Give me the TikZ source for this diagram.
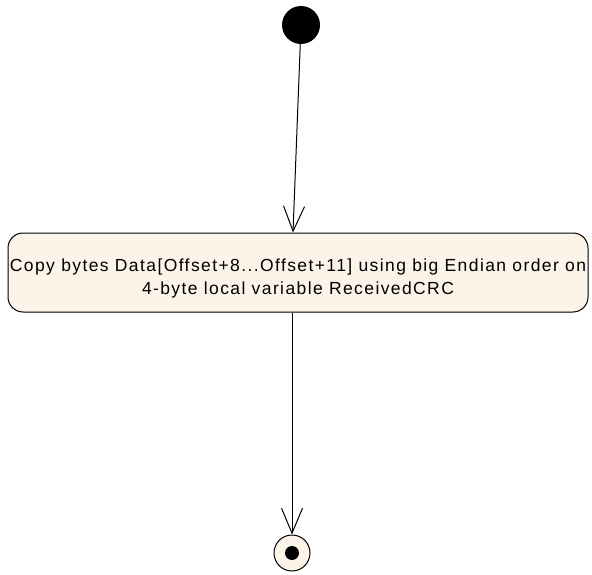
\documentclass[tikz,border=0pt]{standalone}
\usepackage{fontspec}
\setmainfont{Liberation Sans}[LetterSpace=8]
\usetikzlibrary{arrows.meta}
\definecolor{actfill}{RGB}{252,244,232}
\tikzset{
  flow/.style={draw=black, line width=1pt, -{Straight Barb[length=25pt,width=21pt,line width=1pt]}},
  actbox/.style={draw=black, line width=1pt, fill=actfill, rounded corners=15pt, minimum width=580pt, minimum height=79pt, inner sep=0pt},
  acttext/.style={align=center, inner sep=0pt, font=\fontsize{17.5}{22.5}\selectfont},
  initnode/.style={circle, fill=black, minimum size=38pt, inner sep=0pt},
  finalnode/.style={circle, draw=black, line width=1pt, fill=actfill, minimum size=36pt, inner sep=0pt},
  finaldot/.style={circle, fill=black, minimum size=14pt, inner sep=0pt}
}
\begin{document}
\begin{tikzpicture}[x=1pt,y=1pt]
\useasboundingbox (0,0) rectangle (592,-575);
\node[initnode] (start) at (301,-25) {};
\node[actbox] (act) at (298,-272.5) {};
\node[acttext] (acttxt) at ([yshift=-6.2pt]act.center) {Copy bytes Data[Offset+8...Offset+11] using big Endian order on\\4-byte local variable ReceivedCRC};
\node[finalnode] (end) at (292,-553) {};
\node[finaldot] (enddot) at (end.center) {};
\draw[flow] (start) -- ([xshift=-5pt]act.north);
\draw[flow] ([xshift=-6pt]act.south) -- (end);
\end{tikzpicture}
\end{document}
